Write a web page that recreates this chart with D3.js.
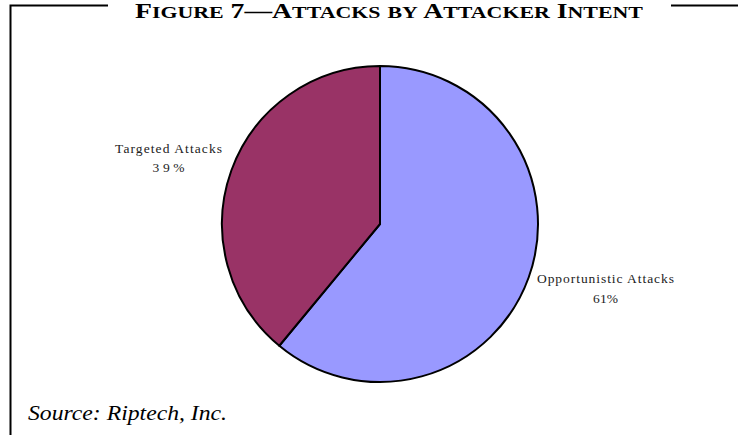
<!DOCTYPE html>
<html>
<head>
<meta charset="utf-8">
<script src="https://cdn.jsdelivr.net/npm/d3@7"></script>
<style>
  html, body { margin: 0; padding: 0; background: #fff; }
  svg { display: block; }
  text { font-family: "Liberation Serif", "Times New Roman", serif; }
</style>
</head>
<body>
<svg id="chart" width="738" height="435"></svg>
<script>
// Attack share by attacker intent
const categories = ["Opportunistic Attacks", "Targeted Attacks"];
const shares = [61, 39];
const colors = ["#9999FF", "#993366"];
const titleText = "Figure 7—Attacks by Attacker Intent";
const sourceText = "Source: Riptech, Inc.";

const svg = d3.select("#chart");
const cx = 380, cy = 224, radius = 158;

// Frame: left rule and top rule broken by the title
svg.append("path")
  .attr("d", "M108,5.5 H10.5 V435 M671,5.5 H738")
  .attr("fill", "none")
  .attr("stroke", "#000")
  .attr("stroke-width", 2);

// Title in small caps: capitals full size, lowercase runs as reduced capitals
const title = svg.append("text")
  .attr("x", 135)
  .attr("y", 17.5)
  .attr("font-weight", "bold")
  .attr("textLength", 508)
  .attr("lengthAdjust", "spacingAndGlyphs");
titleText.match(/[a-z]+|[^a-z]+/g).forEach(p => {
  if (/^[a-z]+$/.test(p)) {
    title.append("tspan").attr("font-size", 17).text(p.toUpperCase());
  } else {
    title.append("tspan").attr("font-size", 21.5).text(p);
  }
});

const data = categories.map((c, i) => ({ name: c, value: shares[i], color: colors[i] }));

const pie = d3.pie().value(d => d.value).sort(null);
const arc = d3.arc().innerRadius(0).outerRadius(radius);

const g = svg.append("g").attr("transform", `translate(${cx},${cy})`);
const arcs = pie(data);

g.selectAll("path.slice")
  .data(arcs)
  .join("path")
  .attr("class", "slice")
  .attr("d", arc)
  .attr("fill", d => d.data.color)
  .attr("stroke", "#000")
  .attr("stroke-width", 2)
  .attr("stroke-linejoin", "round");

// Slice labels placed outside the pie: [x, nameBaseline, valueBaseline, nameWidth, valueWidth]
const labelLayout = [
  [605.5, 283, 303, 137, 25],
  [168.5, 153, 172, 107, 32]
];

const labels = svg.selectAll("g.label")
  .data(arcs)
  .join("g")
  .attr("class", "label");

labels.append("text")
  .attr("x", (d, i) => labelLayout[i][0] - labelLayout[i][3] / 2)
  .attr("y", (d, i) => labelLayout[i][1])
  .attr("font-size", 13.5)
  .attr("textLength", (d, i) => labelLayout[i][3])
  .attr("lengthAdjust", "spacing")
  .attr("fill", "#222")
  .text(d => d.data.name);

labels.append("text")
  .attr("x", (d, i) => labelLayout[i][0] - labelLayout[i][4] / 2)
  .attr("y", (d, i) => labelLayout[i][2])
  .attr("font-size", 13.5)
  .attr("textLength", (d, i) => labelLayout[i][4])
  .attr("lengthAdjust", "spacing")
  .attr("fill", "#222")
  .text(d => d.data.value + "%");

svg.append("text")
  .attr("x", 28)
  .attr("y", 420)
  .attr("font-style", "italic")
  .attr("font-size", 21)
  .attr("textLength", 199)
  .attr("lengthAdjust", "spacingAndGlyphs")
  .text(sourceText);
</script>
</body>
</html>
